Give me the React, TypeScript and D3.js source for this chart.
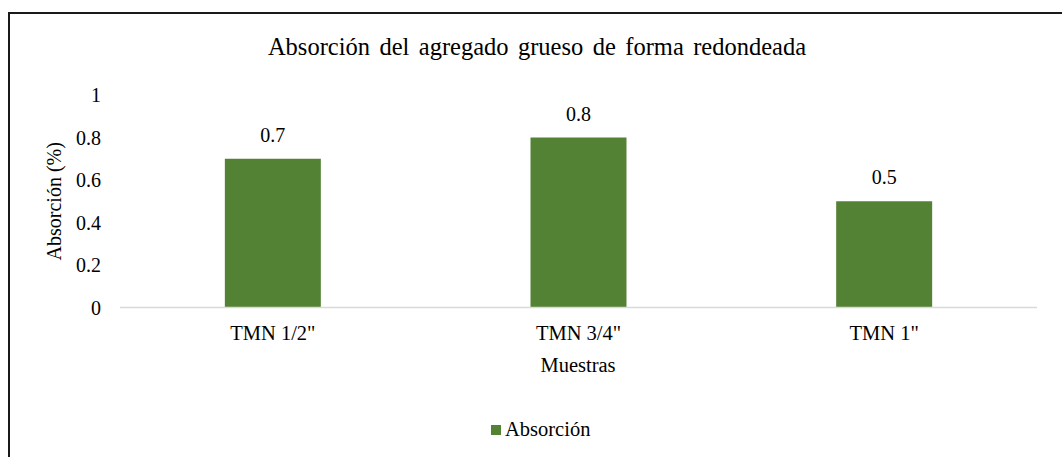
import React, { useEffect, useRef } from 'react'
import * as d3 from 'd3'

const categories = ['TMN 1/2"', 'TMN 3/4"', 'TMN 1"']
const absorcion = [0.7, 0.8, 0.5]
const yTicks = [0, 0.2, 0.4, 0.6, 0.8, 1]

const W = 1062
const H = 457
const FONT = 'Liberation Serif, Tinos, Times New Roman, DejaVu Serif, serif'

const App = () => {
  const svg = useRef<SVGSVGElement>(null)

  useEffect(() => {
    const root = d3.select(svg.current)
    root.selectAll('*').remove()

    // frame, runs off the right and bottom like the source image
    root
      .append('rect')
      .attr('x', 9)
      .attr('y', 13)
      .attr('width', W + 20)
      .attr('height', H + 20)
      .attr('fill', 'white')
      .attr('stroke', '#1a1a1a')
      .attr('stroke-width', 2)

    const xScale = d3
      .scaleBand()
      .domain(categories)
      .range([120, 1037])
      .paddingInner(0.686)
      .paddingOuter(0.343)
    const yScale = d3.scaleLinear().domain([0, 1]).range([307.5, 95])

    const g = root.append('g').style('font-family', FONT).attr('fill', '#000')

    g.append('text')
      .attr('x', 537)
      .attr('y', 54.5)
      .attr('text-anchor', 'middle')
      .attr('font-size', 24.5)
      .attr('word-spacing', 3.3)
      .text('Absorción del agregado grueso de forma redondeada')

    // y tick labels, no gridlines
    g.selectAll('.ytick')
      .data(yTicks)
      .enter()
      .append('text')
      .attr('class', 'ytick')
      .attr('x', 101)
      .attr('y', d => yScale(d))
      .attr('dy', '0.35em')
      .attr('text-anchor', 'end')
      .attr('font-size', 20)
      .text(d => d3.format('~g')(d))

    g.append('text')
      .attr('transform', `translate(61, ${yScale(0.5)}) rotate(-90)`)
      .attr('text-anchor', 'middle')
      .attr('font-size', 20)
      .text('Absorción (%)')

    g.selectAll('.bar')
      .data(absorcion)
      .enter()
      .append('rect')
      .attr('class', 'bar')
      .attr('x', (d, i) => xScale(categories[i]))
      .attr('y', d => yScale(d))
      .attr('width', xScale.bandwidth())
      .attr('height', d => yScale(0) - yScale(d))
      .attr('fill', '#548235')

    g.selectAll('.val')
      .data(absorcion)
      .enter()
      .append('text')
      .attr('class', 'val')
      .attr('x', (d, i) => xScale(categories[i]) + xScale.bandwidth() / 2)
      .attr('y', d => yScale(d) - 17)
      .attr('text-anchor', 'middle')
      .attr('font-size', 20)
      .text(d => d)

    g.append('line')
      .attr('x1', 120)
      .attr('x2', 1037)
      .attr('y1', yScale(0))
      .attr('y2', yScale(0))
      .attr('stroke', '#d9d9d9')
      .attr('stroke-width', 1.5)

    g.selectAll('.cat')
      .data(categories)
      .enter()
      .append('text')
      .attr('class', 'cat')
      .attr('x', d => xScale(d) + xScale.bandwidth() / 2)
      .attr('y', 340)
      .attr('text-anchor', 'middle')
      .attr('font-size', 20.5)
      .text(d => d)

    g.append('text')
      .attr('x', 578)
      .attr('y', 372)
      .attr('text-anchor', 'middle')
      .attr('font-size', 20.5)
      .text('Muestras')

    // legend
    g.append('rect').attr('x', 491).attr('y', 425).attr('width', 10).attr('height', 10).attr('fill', '#548235')
    g.append('text').attr('x', 505).attr('y', 436).attr('font-size', 20.5).text('Absorción')
  }, [])

  return (
    <svg
      ref={svg}
      width={W}
      height={H}
      style={{ position: 'fixed', left: 0, top: 0, background: 'white' }}
    ></svg>
  )
}

export default App
